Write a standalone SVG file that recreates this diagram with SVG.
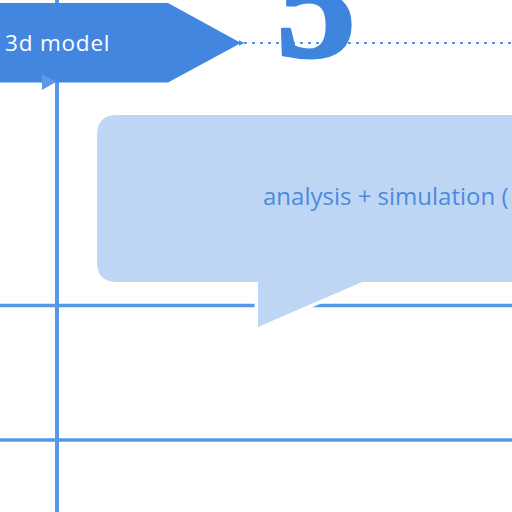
<svg xmlns="http://www.w3.org/2000/svg" width="512" height="512" viewBox="0 0 512 512">
<defs>
<style>
.grid{stroke:#5697e8;fill:none}
.lbl{font-family:"Open Sans","Noto Sans",sans-serif}
</style>
<marker id="ah" viewBox="0 0 10 10" refX="1" refY="5" markerWidth="6" markerHeight="6" orient="auto-start-reverse" markerUnits="userSpaceOnUse">
<path d="M10,0 L0,5 L10,10 z" fill="#4a8be0"/>
</marker>
</defs>
<rect width="512" height="512" fill="#ffffff"/>
<g id="connectors">
<line class="grid" x1="0" y1="305.5" x2="512" y2="305.5" stroke-width="3.5"/>
<line class="grid" x1="0" y1="440" x2="512" y2="440" stroke-width="3.5"/>
<line class="grid" x1="57" y1="0" x2="57" y2="512" stroke-width="4"/>
<line x1="244" y1="43" x2="512" y2="43" stroke="#5a96e4" stroke-width="2" stroke-dasharray="3 5" marker-start="url(#ah)"/>
</g>
<g id="digit">
<text x="276" y="56" font-family="'Liberation Serif',serif" font-weight="bold" font-size="160" fill="#3f85de" stroke="#3f85de" stroke-width="3" stroke-linejoin="round">5</text>
</g>
<g id="node-3d-model">
<polygon points="0,3 168,3 241,43 168,82.5 0,82.5" fill="#4286e0"/>
<text class="lbl" x="5" y="51" font-size="22.5" letter-spacing="0.8" fill="#ffffff">3d model</text>
<polygon points="42,74 56,82 42,90" fill="#5a9be6"/>
</g>
<g id="callout">
<path d="M117,115 H530 V282 H362 L258,327 V282 H117 Q97,282 97,262 V135 Q97,115 117,115 Z" fill="#bed6f4" stroke="#ffffff" stroke-width="7" paint-order="stroke"/>
<text class="lbl" x="263" y="205" font-size="24" fill="#4a8be0">analysis + simulation (</text>
</g>
</svg>
